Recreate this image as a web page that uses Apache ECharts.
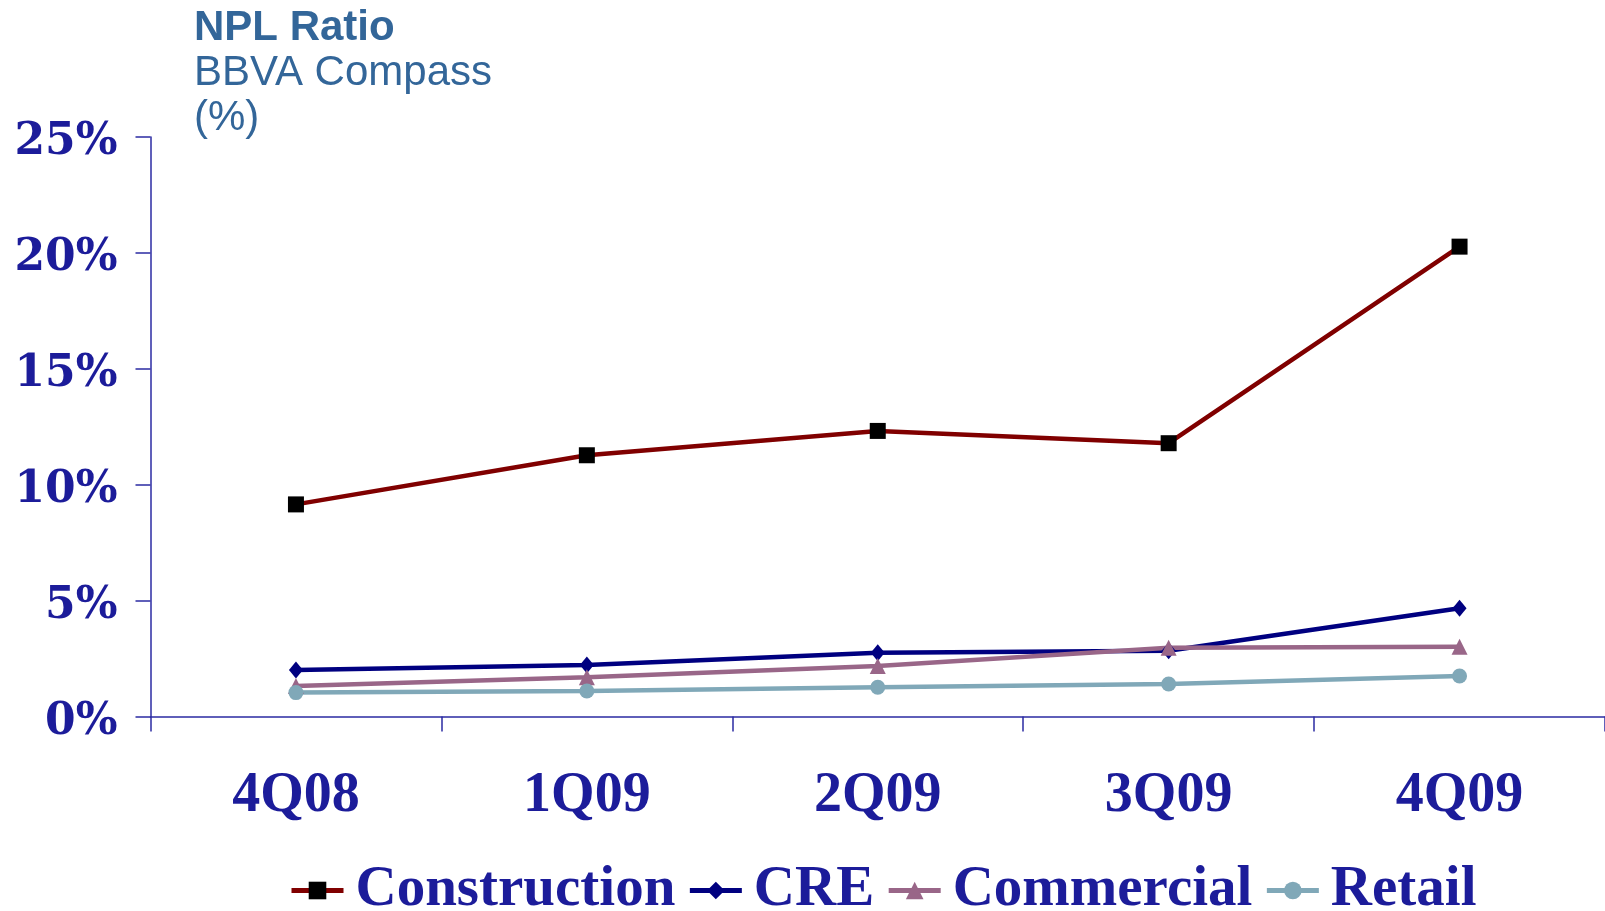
<!DOCTYPE html>
<html>
<head>
<meta charset="utf-8">
<script src="https://cdn.jsdelivr.net/npm/echarts@6/dist/echarts.min.js"></script>
<style>
  html, body { margin: 0; padding: 0; background: #ffffff; }
  #chart { width: 1605px; height: 911px; }
</style>
</head>
<body>
<div id="chart"></div>
<script>
// Quarters on the category axis
const quarters = ['4Q08', '1Q09', '2Q09', '3Q09', '4Q09'];

// NPL ratio by portfolio, in percent
const construction = [9.15, 11.27, 12.32, 11.79, 20.27];
const cre = [2.01, 2.22, 2.75, 2.84, 4.67];
const commercial = [1.32, 1.69, 2.18, 2.97, 3.01];
const retail = [1.03, 1.10, 1.26, 1.40, 1.75];

// Value axis range
const yMin = 0;
const yMax = 25;
const yStep = 5;

const axisBlue = '#2b2ba3';
const textBlue = '#1c1c9a';

function lineSeries(name, data, lineColor, markerColor, symbol, size) {
  return {
    name: name,
    type: 'line',
    data: data,
    symbol: symbol,
    symbolSize: size,
    showSymbol: true,
    lineStyle: { color: lineColor, width: 4.5 },
    itemStyle: { color: markerColor, borderWidth: 0 },
    emphasis: { disabled: true },
    animation: false
  };
}

const chart = echarts.init(document.getElementById('chart'));
chart.setOption({
  backgroundColor: '#ffffff',
  animation: false,
  title: {
    left: 194,
    top: 6,
    padding: 0,
    text: '{a|NPL Ratio}\n{b|BBVA Compass}\n{b|(%)}',
    textStyle: {
      rich: {
        a: { fontFamily: 'Liberation Sans', fontSize: 42, fontWeight: 'bold', color: '#336699', lineHeight: 45 },
        b: { fontFamily: 'Liberation Sans', fontSize: 42, fontWeight: 'normal', color: '#336699', lineHeight: 45 }
      }
    }
  },
  grid: {
    left: 150.5,
    right: 0,
    top: 137,
    bottom: 194.5,
    containLabel: false,
    outerBoundsMode: 'none'
  },
  legend: {
    left: 289,
    top: 862,
    padding: 0,
    itemWidth: 52,
    itemHeight: 22,
    itemGap: 12,
    selectedMode: false,
    lineStyle: { width: 5 },
    textStyle: {
      fontFamily: 'Liberation Serif',
      fontWeight: 'bold',
      fontSize: 57,
      color: textBlue,
      padding: [0, 0, 0, 7]
    },
    data: ['Construction', 'CRE', 'Commercial', 'Retail']
  },
  xAxis: {
    type: 'category',
    data: quarters,
    boundaryGap: true,
    axisLine: { show: true, lineStyle: { color: axisBlue, width: 1.5 } },
    axisTick: { show: true, length: 15, alignWithLabel: false, lineStyle: { color: axisBlue, width: 1.5 } },
    axisLabel: {
      margin: 52,
      fontFamily: 'Liberation Serif',
      fontWeight: 'bold',
      fontSize: 56,
      color: textBlue
    },
    splitLine: { show: false }
  },
  yAxis: {
    type: 'value',
    min: yMin,
    max: yMax,
    interval: yStep,
    axisLine: { show: true, lineStyle: { color: axisBlue, width: 1.5 } },
    axisTick: { show: true, length: 15, lineStyle: { color: axisBlue, width: 1.5 } },
    axisLabel: {
      margin: 33,
      formatter: '{value}%',
      fontFamily: 'DejaVu Serif',
      fontWeight: 'bold',
      fontSize: 44,
      color: textBlue,
      verticalAlign: 'top',
      lineHeight: 12
    },
    splitLine: { show: false }
  },
  series: [
    lineSeries('Construction', construction, '#800000', '#000000', 'rect', 16),
    lineSeries('CRE', cre, '#000080', '#000080', 'diamond', [14, 17]),
    lineSeries('Commercial', commercial, '#996688', '#996688', 'triangle', 16),
    lineSeries('Retail', retail, '#80a8b8', '#80a8b8', 'circle', 15)
  ]
});
</script>
</body>
</html>
